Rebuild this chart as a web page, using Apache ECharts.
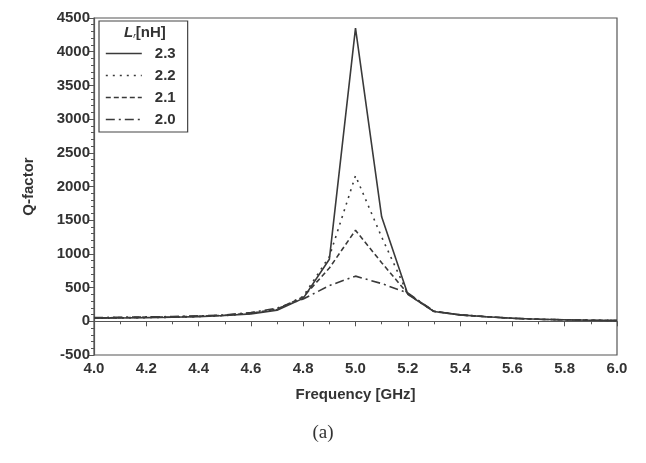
<!DOCTYPE html>
<html>
<head>
<meta charset="utf-8">
<script src="https://cdn.jsdelivr.net/npm/echarts@6/dist/echarts.min.js"></script>
<style>
  html, body { margin: 0; padding: 0; background: #fff; }
  #chart { width: 646px; height: 463px; }
</style>
</head>
<body>
<div id="chart"></div>
<script>
// 频率 (GHz)
const freq = [4.0, 4.1, 4.2, 4.3, 4.4, 4.5, 4.6, 4.7, 4.8, 4.9, 5.0, 5.1, 5.2, 5.3, 5.4, 5.5, 5.6, 5.7, 5.8, 5.9, 6.0]
// Q-factor，各电感值
const q23 = [45, 50, 55, 60, 70, 85, 110, 165, 340, 920, 4350, 1550, 400, 145, 95, 68, 45, 30, 22, 16, 12]
const q22 = [45, 50, 55, 60, 70, 85, 115, 175, 370, 960, 2160, 1250, 405, 145, 95, 68, 45, 30, 22, 16, 12]
const q21 = [50, 55, 60, 65, 75, 90, 120, 180, 360, 790, 1350, 870, 410, 148, 95, 68, 45, 30, 22, 16, 12]
const q20 = [55, 60, 65, 70, 80, 95, 130, 195, 330, 530, 670, 560, 420, 150, 96, 68, 45, 30, 22, 16, 12]
const seriesNames = ['2.3', '2.2', '2.1', '2.0']
const yTicks = [-500, 0, 500, 1000, 1500, 2000, 2500, 3000, 3500, 4000, 4500]

const lineColor = '#3a3a3a'
const font = 'Liberation Sans, Arial, sans-serif'

function pairs(ys) {
  return freq.map((x, i) => [x, ys[i]])
}

function mkSeries(name, ys, type) {
  return {
    name: name,
    type: 'line',
    data: pairs(ys),
    symbol: 'none',
    smooth: false,
    lineStyle: { color: lineColor, width: 1.6, type: type },
    itemStyle: { color: lineColor }
  }
}

const chart = echarts.init(document.getElementById('chart'))
chart.setOption({
  backgroundColor: '#fff',
  animation: false,
  grid: {
    left: 94, right: 29, top: 18, bottom: 108,
    show: true, borderColor: '#555', borderWidth: 1.2
  },
  legend: {
    data: seriesNames,
    orient: 'vertical',
    left: 99, top: 21,
    padding: [25, 12, 5, 6],
    itemGap: 7,
    itemWidth: 36,
    itemHeight: 10,
    borderColor: '#444',
    borderWidth: 1.2,
    backgroundColor: '#fff',
    itemStyle: { opacity: 0 },
    lineStyle: { width: 1.6 },
    textStyle: { fontFamily: font, fontWeight: 'bold', fontSize: 15, color: '#333', padding: [0, 0, 0, 8] }
  },
  graphic: [
    {
      type: 'text', left: 124, top: 25, z: 100,
      style: {
        text: '{i|L}{s|r}{n|[nH]}',
        rich: {
          i: { fontFamily: font, fontStyle: 'italic', fontWeight: 'bold', fontSize: 15, fill: '#333' },
          s: { fontFamily: font, fontStyle: 'italic', fontSize: 8, fill: '#333', verticalAlign: 'bottom', padding: [6, 0, 0, 0] },
          n: { fontFamily: font, fontWeight: 'bold', fontSize: 15, fill: '#333' }
        }
      }
    },
    {
      type: 'text', left: 'center', top: 424,
      style: { text: '(a)', fontFamily: 'Liberation Serif, serif', fontSize: 19, fill: '#333' }
    }
  ],
  xAxis: {
    type: 'value',
    min: 4.0, max: 6.0, interval: 0.2,
    name: 'Frequency [GHz]',
    nameLocation: 'middle',
    nameGap: 32,
    nameTextStyle: { fontFamily: font, fontWeight: 'bold', fontSize: 15, color: '#333' },
    axisLine: { lineStyle: { color: '#555', width: 1.2 } },
    axisTick: { show: true, inside: false, length: 5, lineStyle: { color: '#555' } },
    minorTick: { show: true, splitNumber: 2, length: 3, lineStyle: { color: '#555' } },
    splitLine: { show: false },
    axisLabel: {
      fontFamily: font, fontWeight: 'bold', fontSize: 15, color: '#333', margin: 6,
      formatter: v => v.toFixed(1)
    }
  },
  yAxis: {
    type: 'value',
    min: yTicks[0], max: yTicks[yTicks.length - 1], interval: 500,
    name: 'Q-factor',
    nameLocation: 'middle',
    nameGap: 58,
    nameTextStyle: { fontFamily: font, fontWeight: 'bold', fontSize: 15, color: '#333' },
    axisLine: { show: true, lineStyle: { color: '#555', width: 1.2 } },
    axisTick: { show: true, inside: false, length: 5, lineStyle: { color: '#555' } },
    minorTick: { show: true, splitNumber: 5, length: 3, lineStyle: { color: '#555' } },
    splitLine: { show: false },
    axisLabel: {
      fontFamily: font, fontWeight: 'bold', fontSize: 15, color: '#333', margin: 4,
      formatter: v => String(v)
    }
  },
  series: [
    mkSeries(seriesNames[0], q23, 'solid'),
    mkSeries(seriesNames[1], q22, [2, 5]),
    mkSeries(seriesNames[2], q21, [5, 3]),
    mkSeries(seriesNames[3], q20, [9, 4, 2, 4])
  ]
})
</script>
</body>
</html>
